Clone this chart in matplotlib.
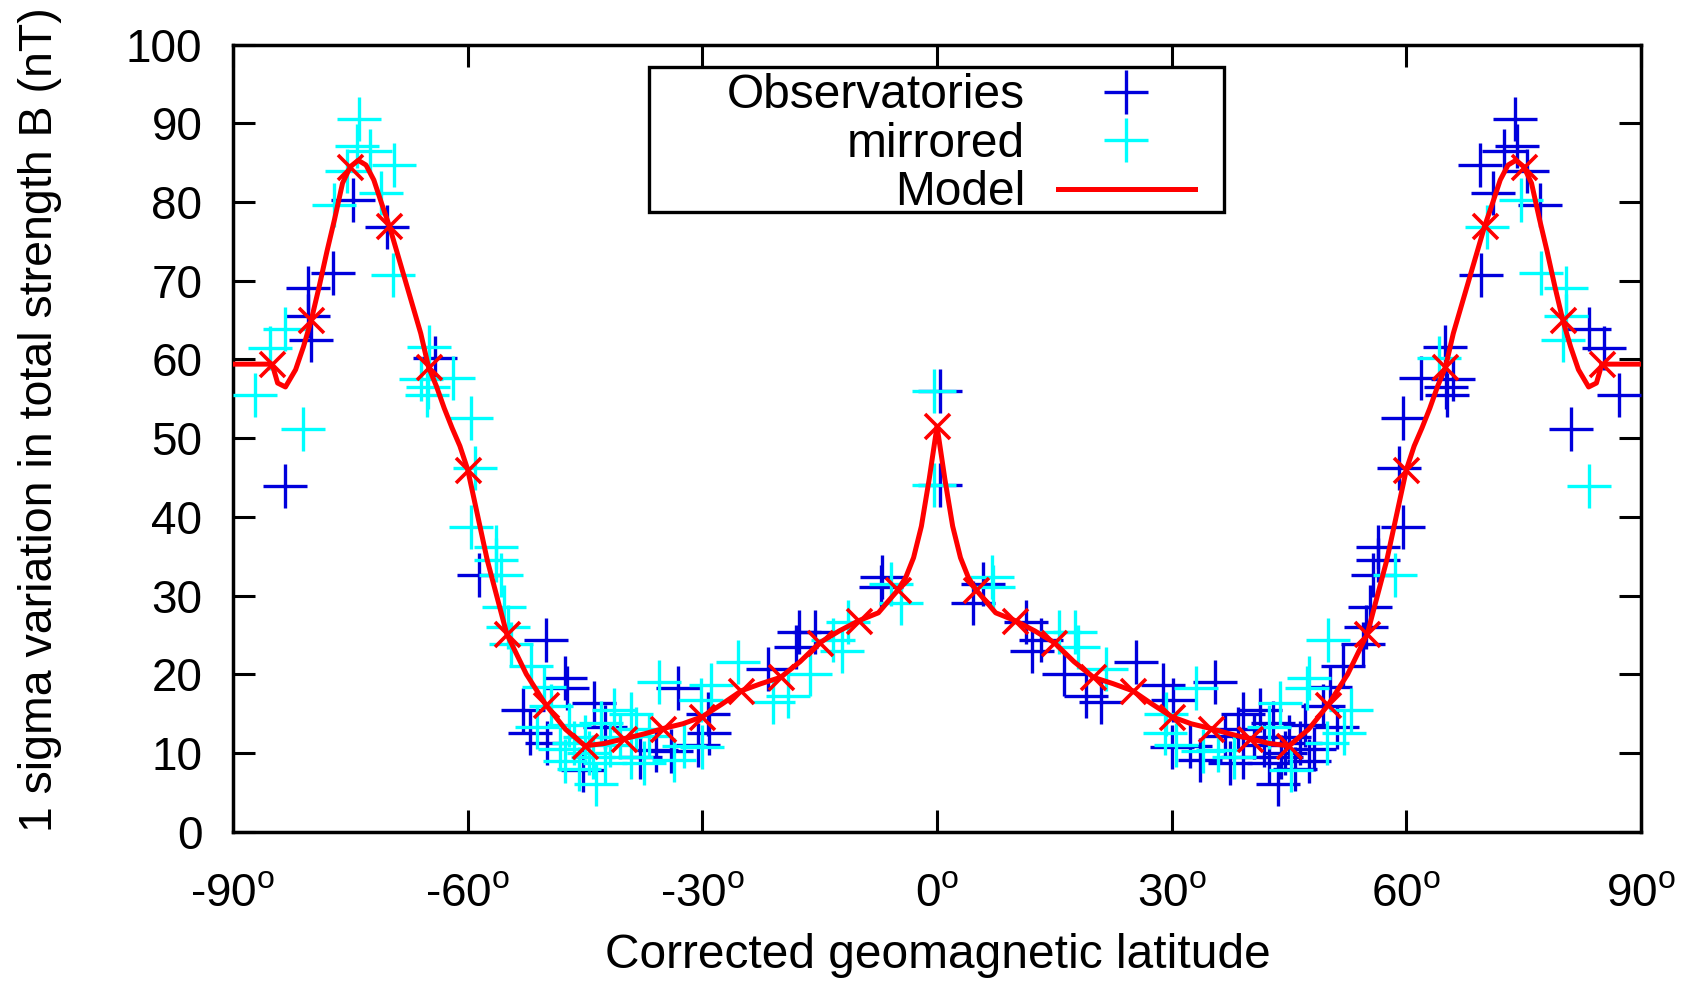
import matplotlib
matplotlib.use("Agg")
import matplotlib.pyplot as plt
from matplotlib.patches import Rectangle
import numpy as np

plt.rcParams['font.family'] = ['Liberation Sans', 'DejaVu Sans']
plt.rcParams['mathtext.fontset'] = 'custom'
plt.rcParams['mathtext.rm'] = 'Liberation Sans'

# observatory values (corrected geomagnetic latitude, 1 sigma in nT)
obs_lat = [-83.4, -80.4, -80.4, -80.0, -77.2, -74.7, -70.3, -64.2,
           -58.5, -52.9, -52.0, -50.0, -49.9, -47.6, -47.3, -45.3, -43.8, -42.5,
           -38.0, -35.9, -34.0, -33.1, -30.6, -29.3, -29.1, -21.6, -18.0, -17.6,
           -15.6, -7.0, -7.1,
           0.4, 0.4, 4.6, 5.9, 11.4, 12.1, 13.3, 16.2, 19.0, 21.0, 25.5, 28.9,
           30.2, 30.0, 32.3, 33.6, 35.5, 36.8, 37.4, 38.5, 39.1, 39.1, 40.5, 41.3,
           41.8, 43.0, 42.5, 43.6, 44.0, 44.5, 45.0, 45.8, 46.4, 47.0, 47.5, 48.2,
           49.3, 50.2, 51.1, 51.9, 54.5, 54.9, 55.3, 55.7,
           56.4, 56.4, 59.6, 59.1, 59.6, 61.9, 64.9, 65.1, 65.2, 66.0, 69.6,
           69.4, 71.1, 72.5, 73.9, 74.1, 75.4, 77.1, 81.0, 83.4, 85.3, 87.2]
obs_sig = [43.9, 69.1, 65.5, 62.5, 71.0, 80.3, 76.8, 60.2,
           32.6, 15.5, 12.5, 24.3, 11.2, 19.5, 18.3, 7.8, 16.3, 13.3,
           9.5, 10.4, 10.2, 18.2, 11.0, 15.0, 12.5, 20.7, 23.5, 25.4,
           25.4, 32.4, 31.1,
           56.0, 44.0, 29.0, 31.5, 26.6, 23.0, 24.4, 20.0, 17.2, 16.5, 21.6, 18.6,
           16.7, 10.8, 10.9, 9.1, 19.0, 12.2, 8.7, 13.0, 15.0, 9.5, 12.0, 15.5,
           11.0, 13.8, 8.7, 6.0, 9.5, 10.0, 12.0, 8.0, 11.2, 13.5, 9.0, 10.5,
           15.9, 18.4, 13.3, 21.0, 23.9, 26.0, 28.6, 32.6,
           34.5, 36.2, 38.7, 46.2, 52.5, 57.6, 61.6, 56.5, 55.5, 57.5, 70.7,
           84.7, 81.2, 86.5, 90.5, 87.1, 83.9, 79.6, 51.2, 63.9, 61.4, 55.5]

# model curve, northern half (symmetric about the equator)
model_lat = [0, 1, 2, 3, 4, 5, 7.5, 10, 12.5, 15, 17.5, 20, 22.5, 25, 27.5, 30,
             32.5, 35, 37.5, 40, 42.5, 45, 47.5, 50, 52.5, 55, 57.5, 60, 61, 62,
             63, 64, 65, 66, 67, 68, 69, 70, 71, 72, 73, 74, 75, 76, 77, 78, 79,
             80, 81, 82, 83.3, 84.3, 85, 90]
model_val = [51.5, 44.8, 38.8, 34.8, 32.3, 30.7, 27.8, 26.8, 25.5, 24.0, 21.6,
             19.6, 18.8, 17.9, 16.2, 14.6, 13.7, 13.1, 12.4, 11.8, 11.2, 10.9,
             13.0, 16.1, 20.0, 25.1, 34.5, 46.0, 49.0, 51.3, 53.8, 56.6, 59.0,
             63.3, 66.7, 70.1, 73.5, 76.9, 79.8, 82.8, 84.7, 85.3, 84.5, 82.4,
             77.9, 73.7, 69.2, 65.0, 61.6, 58.7, 56.5, 57.0, 59.4, 59.4]

xticks = [-90, -60, -30, 0, 30, 60, 90]
yticks = [0, 10, 20, 30, 40, 50, 60, 70, 80, 90, 100]

obs_lat = np.array(obs_lat)
obs_sig = np.array(obs_sig)
mlat = np.array(model_lat)
mval = np.array(model_val)
full_lat = np.concatenate([-mlat[::-1], mlat[1:]])
full_val = np.concatenate([mval[::-1], mval[1:]])
mk = (np.abs(full_lat) <= 85) & (np.mod(full_lat, 5) == 0)

fig = plt.figure(figsize=(16.85, 9.81), dpi=100)
ax = fig.add_axes([0.1383, 0.1523, 0.8356, 0.8022])

blue = '#0000dc'
cyan = '#00ffff'
red = '#ff0000'

ax.plot(obs_lat, obs_sig, '+', color=blue, ms=31, mew=2.4, zorder=3)
ax.plot(-obs_lat, obs_sig, '+', color=cyan, ms=31, mew=2.4, zorder=4)
ax.plot(full_lat, full_val, '-', color=red, lw=3.6, zorder=5)
ax.plot(full_lat[mk], full_val[mk], 'x', color=red, ms=18, mew=2.6, zorder=5)

ax.set_xlim(-90, 90)
ax.set_ylim(0, 100)
ax.set_xticks(xticks)
ax.set_xticklabels([str(t) + r'$^{\mathrm{o}}$' for t in xticks])
ax.set_yticks(yticks)
ax.set_yticklabels([str(t) for t in yticks])
ax.tick_params(direction='in', length=16, width=2.2, top=True, right=True,
               labelsize=33)
ax.tick_params(axis='y', pad=22)
ax.tick_params(axis='x', pad=29)
for s in ax.spines.values():
    s.set_linewidth(2.5)

# legend box
ax.add_patch(Rectangle((0.2955, 0.7877), 0.4085, 0.1843, transform=ax.transAxes,
                       facecolor='white', edgecolor='black', lw=2.4, zorder=10))
rows = [0.919, 0.8577, 0.796]
names = ['Observatories', 'mirrored', 'Model']
for yb, name in zip(rows, names):
    ax.text(0.5625, yb, name, transform=ax.transAxes, ha='right', va='baseline',
            fontsize=34.5, zorder=11)
mid = [r + 0.021 for r in rows]
ax.plot([0.634], [mid[0]], '+', color=blue, ms=31, mew=2.4, transform=ax.transAxes,
        zorder=11, clip_on=False)
ax.plot([0.634], [mid[1]], '+', color=cyan, ms=31, mew=2.4, transform=ax.transAxes,
        zorder=11, clip_on=False)
ax.plot([0.586, 0.683], [mid[2], mid[2]], '-', color=red, lw=3.6,
        transform=ax.transAxes, zorder=11, clip_on=False)

fig.text(0.5565, 0.0133, 'Corrected geomagnetic latitude', ha='center',
         va='baseline', fontsize=34.5)
fig.text(0.0307, 0.572, '1 sigma variation in total strength B (nT)', rotation=90,
         rotation_mode='anchor', ha='center', va='baseline', fontsize=33.5)

fig.savefig('out.png', dpi=100)
